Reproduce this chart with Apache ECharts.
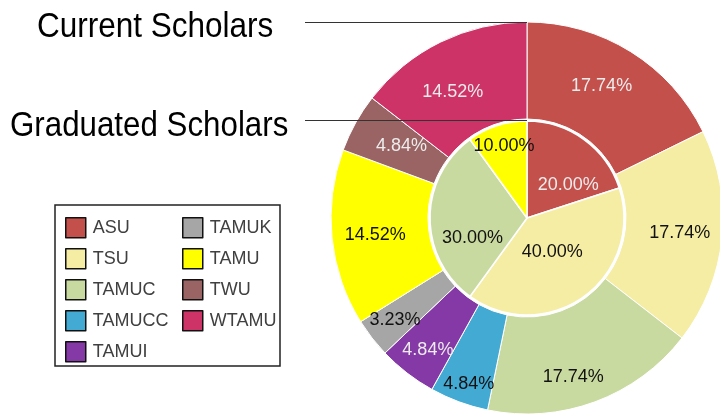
<!DOCTYPE html>
<html><head><meta charset="utf-8">
<script src="https://cdn.jsdelivr.net/npm/echarts@6/dist/echarts.min.js"></script>
<style>html,body{margin:0;padding:0;background:#fff}#c{width:720px;height:416px}</style>
</head><body><div id="c"></div>
<script>
const schools = ['ASU','TSU','TAMUC','TAMUCC','TAMUI','TAMUK','TAMU','TWU','WTAMU'];
const colors = ['#c4504c','#f5eda4','#c9daa0','#43aad3','#8439a6','#a6a6a6','#ffff00','#9a6464','#cd3366'];
const labelColors = ['#ececec','#111','#111','#111','#ececec','#111','#111','#ececec','#ececec'];
const currentCounts = [11,11,11,3,3,2,9,3,9];
const gradSchools = ['ASU','TSU','TAMUC','TAMU'];
const gradCounts = [2,4,3,1];
const titleCurrent = 'Current Scholars';
const titleGrad = 'Graduated Scholars';
// label nudges (style only)
const outerNudge = [[-5,-4],[3,0],[-6,18],[-6,25],[-7,13],[-13,10],[-2,2],[6,1],[-8,9]];
const innerNudge = [[11,9],[-5,-8],[-3,20],[-7,-23]];

const idx = n => schools.indexOf(n);
const FONT = '"Liberation Sans", Arial, sans-serif';
function mk(names, vals, nudge){
  const tot = vals.reduce((a,b)=>a+b,0);
  return names.map((n,i)=>({name:n, value:vals[i],
    itemStyle:{color:colors[idx(n)]},
    label:{color:labelColors[idx(n)], offset:nudge[i],
      formatter:(vals[i]/tot*100).toFixed(2)+'%'}}));
}
const chart = echarts.init(document.getElementById('c'));
const lbl = {show:true, position:'inside', fontSize:18, fontFamily:FONT};
const legendCommon = {orient:'vertical', top:217, padding:0,
     itemWidth:20, itemHeight:20, itemGap:9.5, icon:'rect',
     itemStyle:{borderColor:'#111', borderWidth:1.5},
     textStyle:{fontSize:18, fontFamily:FONT, color:'#404040', padding:[0,0,0,2]}};
chart.setOption({
  animation:false,
  legend:[
    Object.assign({data:schools.slice(0,5), left:65}, legendCommon),
    Object.assign({data:schools.slice(5), left:182}, legendCommon)
  ],
  series:[
    {type:'pie', name:'current', center:[527,218], radius:[99,196], startAngle:90,
     clockwise:true, avoidLabelOverlap:false, label:lbl, labelLine:{show:false},
     itemStyle:{borderColor:'#fff', borderWidth:1},
     emphasis:{disabled:true}, data:mk(schools,currentCounts,outerNudge)},
    {type:'pie', name:'grad', center:[527,218], radius:[0,97], startAngle:90,
     clockwise:true, avoidLabelOverlap:false, label:lbl, labelLine:{show:false},
     itemStyle:{borderColor:'#fff', borderWidth:1.5},
     emphasis:{disabled:true}, data:mk(gradSchools,gradCounts,innerNudge)}
  ],
  graphic:[
    {type:'rect', z:-1, shape:{x:55,y:205,width:225,height:161},
     style:{fill:'#fff', stroke:'#222', lineWidth:1.5}},
    {type:'text', x:37, y:27, scaleX:0.9, z:10,
     style:{text:titleCurrent, font:'35px '+FONT, fill:'#000', textAlign:'left', textVerticalAlign:'middle'}},
    {type:'text', x:10, y:126, scaleX:0.894, z:10,
     style:{text:titleGrad, font:'35px '+FONT, fill:'#000', textAlign:'left', textVerticalAlign:'middle'}},
    {type:'line', z:10, shape:{x1:305,y1:22.5,x2:527,y2:22.5}, style:{stroke:'#333', lineWidth:1}},
    {type:'line', z:10, shape:{x1:305,y1:120.5,x2:527,y2:120.5}, style:{stroke:'#333', lineWidth:1}}
  ]
});
</script></body></html>
